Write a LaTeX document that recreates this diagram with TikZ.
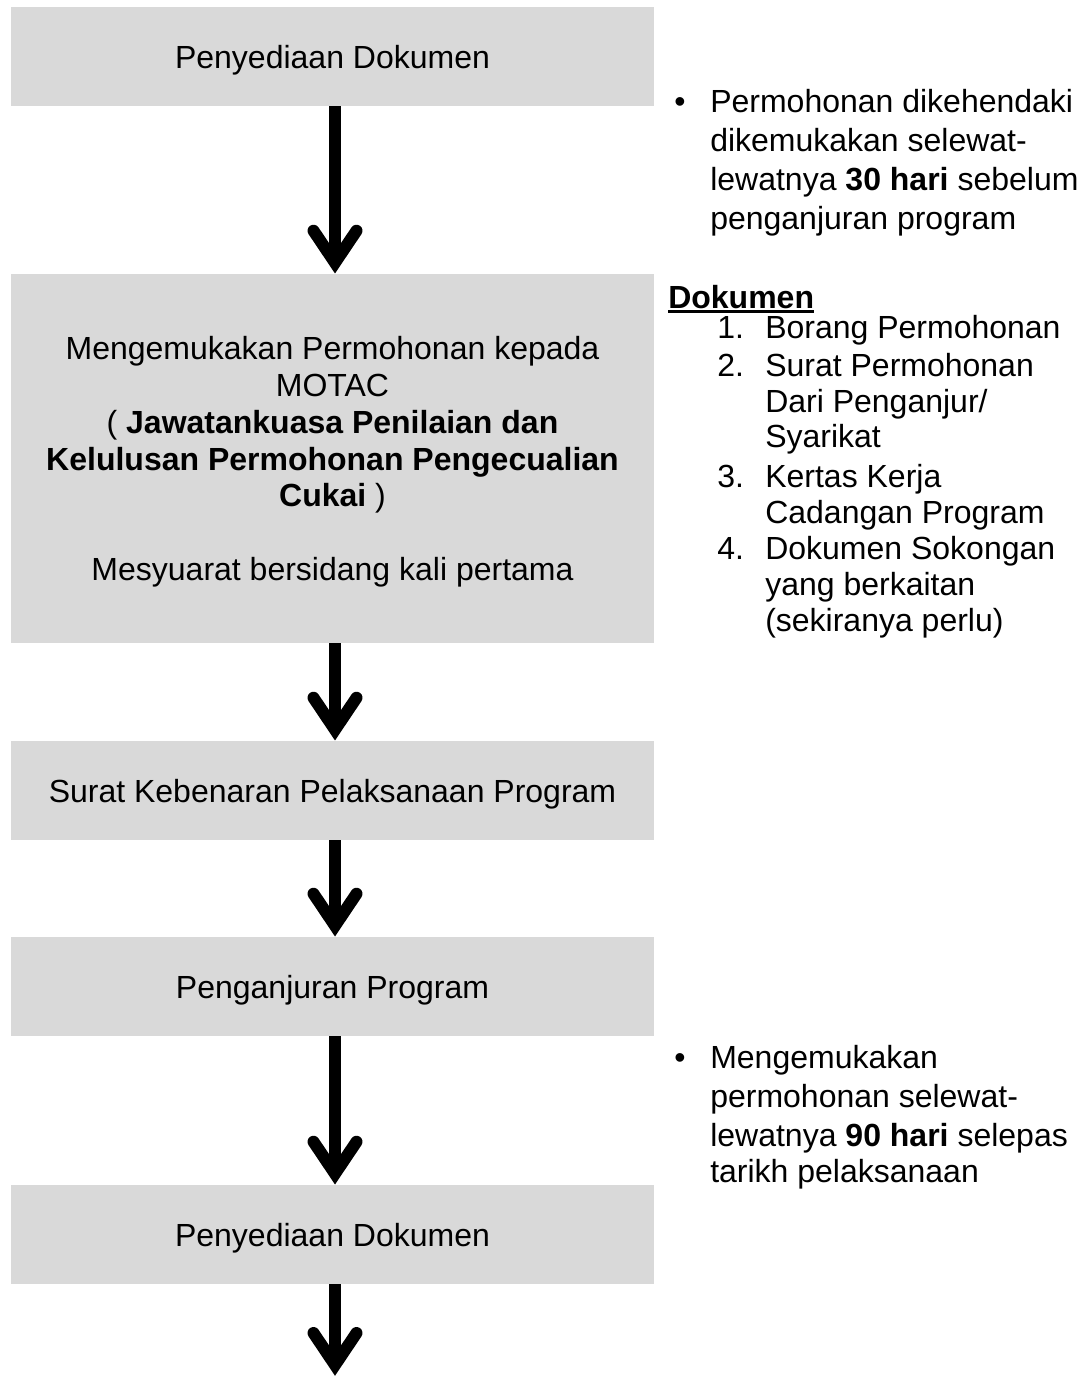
\documentclass[tikz,border=0pt]{standalone}
\usepackage{fontspec}
\setmainfont{Liberation Sans}
\usetikzlibrary{calc}
\definecolor{boxgray}{HTML}{D9D9D9}
\newcommand\myul[1]{\setbox0\hbox{#1}\rlap{\rule[-3.4pt]{\wd0}{1.7pt}}\box0}
\newcommand\flowarr[2]{%
  \draw[shaft] ($(#1.south)+(2.5,0)$) -- ($(#2)+(2.5,-11)$);
  \draw[head] ($(#2)+(-19,-43)$) -- ($(#2)+(2.5,-11)$) -- ($(#2)+(24,-43)$);
}
\begin{document}
\begin{tikzpicture}[x=0.75pt,y=-0.75pt,
  box/.style={fill=boxgray, draw=none, minimum width=482.25pt, inner sep=0pt, align=center, text depth=0pt, font=\fontsize{24}{27.6}\selectfont},
  rtext/.style={anchor=base west, inner sep=0pt, font=\fontsize{24}{27.6}\selectfont},
  shaft/.style={line width=9pt, line cap=butt},
  head/.style={line width=9pt, line cap=round, line join=miter}]
\useasboundingbox (0,0) rectangle (1083,1376);

% boxes
\node[box, minimum height=74.25pt] (b1) at (332.5,56.5) {Penyediaan Dokumen};
\node[box, minimum height=276.75pt] (b2) at (332.5,458.5) {Mengemukakan Permohonan kepada\\ MOTAC\\ ( \textbf{Jawatankuasa Penilaian dan}\\ \textbf{Kelulusan Permohonan Pengecualian}\\ \textbf{Cukai} )\\[27.6pt] Mesyuarat bersidang kali pertama};
\node[box, minimum height=74.25pt] (b3) at (332.5,790.5) {Surat Kebenaran Pelaksanaan Program};
\node[box, minimum height=74.25pt] (b4) at (332.5,986.5) {Penganjuran Program};
\node[box, minimum height=74.25pt] (b5) at (332.5,1234.5) {Penyediaan Dokumen};
\coordinate (end) at (332.5,1376);

% arrows
\flowarr{b1}{b2.north}
\flowarr{b2}{b3.north}
\flowarr{b3}{b4.north}
\flowarr{b4}{b5.north}
\flowarr{b5}{end}

% right column: first note
\node[rtext, anchor=base] (p1b) at (680,113) {•};
\node[rtext] (p1a) at (710,113) {Permohonan dikehendaki};
\node[rtext] (p1c) at (710,152) {dikemukakan selewat-};
\node[rtext] (p1d) at (710,191) {lewatnya \textbf{30 hari} sebelum};
\node[rtext] (p1e) at (710,230) {penganjuran program};

% Dokumen list
\node[rtext] (dok) at (668,308) {\myul{\textbf{Dokumen}}};
\node[rtext] (n1) at (717,339) {1.};
\node[rtext] (l1) at (765,339) {Borang Permohonan};
\node[rtext] (n2) at (717,376) {2.};
\node[rtext] (l2) at (765,376) {Surat Permohonan};
\node[rtext] (l2b) at (765,412) {Dari Penganjur/};
\node[rtext] (l2c) at (765,447) {Syarikat};
\node[rtext] (n3) at (717,487) {3.};
\node[rtext] (l3) at (765,487) {Kertas Kerja};
\node[rtext] (l3b) at (765,523) {Cadangan Program};
\node[rtext] (n4) at (717,559) {4.};
\node[rtext] (l4) at (765,559) {Dokumen Sokongan};
\node[rtext] (l4b) at (765,595) {yang berkaitan};
\node[rtext] (l4c) at (765,631) {(sekiranya perlu)};

% second note
\node[rtext, anchor=base] (p2b) at (680,1068) {•};
\node[rtext] (p2a) at (710,1068) {Mengemukakan};
\node[rtext] (p2c) at (710,1107) {permohonan selewat-};
\node[rtext] (p2d) at (710,1146) {lewatnya \textbf{90 hari} selepas};
\node[rtext] (p2e) at (710,1182) {tarikh pelaksanaan};
\end{tikzpicture}
\end{document}
